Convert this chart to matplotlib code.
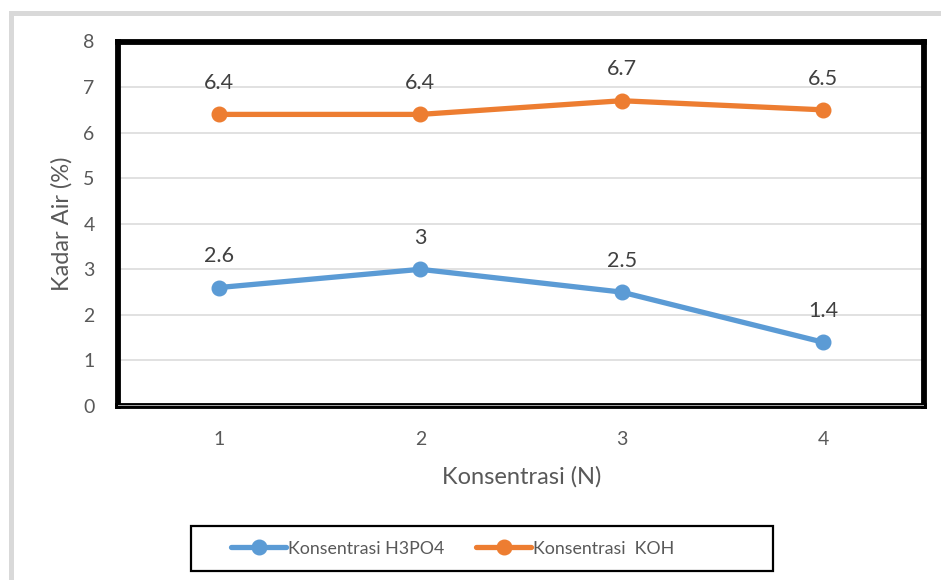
import matplotlib
matplotlib.use("Agg")
import matplotlib.pyplot as plt
from matplotlib.patches import Rectangle

# konsentrasi aktivator vs kadar air
konsentrasi = [1, 2, 3, 4]
kadar_h3po4 = [2.6, 3, 2.5, 1.4]
kadar_koh = [6.4, 6.4, 6.7, 6.5]
label_h3po4 = "Konsentrasi H3PO4"
label_koh = "Konsentrasi  KOH"

BLUE = "#5B9BD5"
ORANGE = "#ED7D31"
TICK_COLOR = "#595959"
LABEL_COLOR = "#404040"

plt.rcParams["font.family"] = ["Lato", "DejaVu Sans"]

W, H = 941, 580
fig = plt.figure(figsize=(W / 100, H / 100), dpi=100)

def fx(px):
    return px / W

def fy(py):
    return 1 - py / H

# light grey outer frame
fig.add_artist(Rectangle((fx(10.5), fy(600)), fx(960), fy(12.5) - fy(600),
                         transform=fig.transFigure, facecolor="none",
                         edgecolor="#d9d9d9", linewidth=3.6))

ax = fig.add_axes([fx(118.3), fy(406), fx(923.7) - fx(118.3), fy(41.5) - fy(406)])
ax.set_xlim(0.5, 4.5)
ax.set_ylim(0, 8)
ax.set_yticks(range(0, 9))
ax.set_xticks(konsentrasi)
ax.grid(axis="y", color="#d9d9d9", linewidth=1.1)
ax.set_axisbelow(True)
ax.tick_params(length=0, labelsize=14, labelcolor=TICK_COLOR)
ax.tick_params(axis="y", pad=17)
ax.tick_params(axis="x", pad=18)

for side in ["left", "top", "right", "bottom"]:
    ax.spines[side].set_linewidth(4.2)
    ax.spines[side].set_color("black")
ax.axhline(0, color="#bfbfbf", linewidth=1.2, zorder=5)

for vals, color, lab in [(kadar_h3po4, BLUE, label_h3po4), (kadar_koh, ORANGE, label_koh)]:
    ax.plot(konsentrasi, vals, color=color, linewidth=3.8, marker="o",
            markersize=10.5, label=lab, solid_capstyle="round", clip_on=False, zorder=3)
    for x, v in zip(konsentrasi, vals):
        ax.annotate(f"{v:g}", (x, v), xytext=(0, 22.5), textcoords="offset points",
                    ha="center", va="center", fontsize=15.5, color=LABEL_COLOR)

fig.text(fx(62), fy(224), "Kadar Air (%)", rotation=90, ha="center", va="center",
         fontsize=17, color=TICK_COLOR)
fig.text(fx(522), fy(477), "Konsentrasi (N)", ha="center", va="center",
         fontsize=17, color=TICK_COLOR)

# legend box
fig.add_artist(Rectangle((fx(190.5), fy(571)), fx(773) - fx(190.5), fy(526) - fy(571),
                         transform=fig.transFigure, facecolor="white",
                         edgecolor="black", linewidth=1.6))
handles, labels = ax.get_legend_handles_labels()
fig.legend(handles, labels, loc="center left", bbox_to_anchor=(fx(231), fy(548.5)),
           ncol=2, frameon=False, fontsize=12.8, labelcolor=TICK_COLOR,
           handlelength=3.1, handletextpad=0.1, columnspacing=1.8,
           borderpad=0, borderaxespad=0)

fig.savefig("out.png", dpi=100)
